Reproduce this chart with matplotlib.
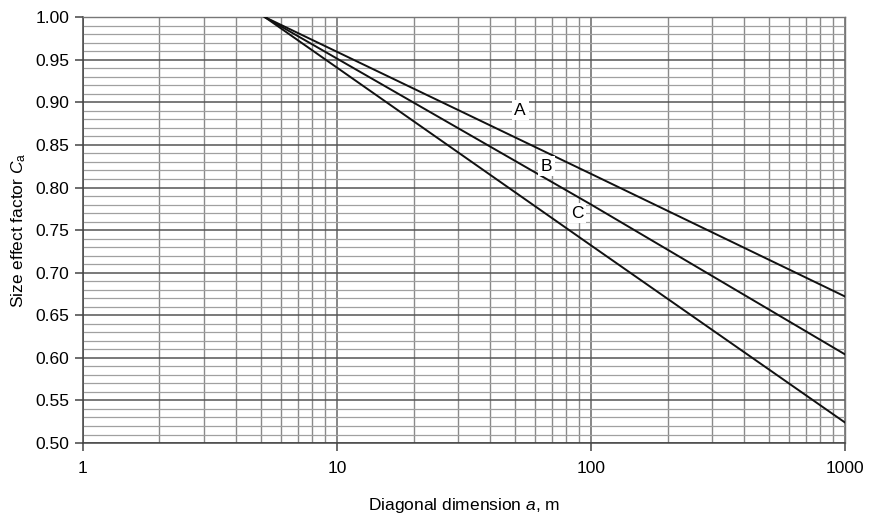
import numpy as np
import matplotlib
matplotlib.use('Agg')
import matplotlib.pyplot as plt
from matplotlib.ticker import FixedLocator, NullFormatter, MultipleLocator

plt.rcParams['font.family'] = ['Liberation Sans', 'DejaVu Sans']
plt.rcParams['mathtext.fontset'] = 'custom'
plt.rcParams['mathtext.rm'] = 'Liberation Sans'
plt.rcParams['mathtext.it'] = 'Liberation Sans:italic'

# values
a_vals = [5.2, 100, 1000]
curve_A = [1.0, 0.816, 0.672]
curve_B = [1.0, 0.780, 0.604]
curve_C = [1.0, 0.732, 0.524]

labels = ['A', 'B', 'C']
label_x = [52.6, 66.5, 88]
label_y = [0.891, 0.825, 0.770]

xticks = [1, 10, 100, 1000]
xticklabels = ['1', '10', '100', '1000']

fig = plt.figure(figsize=(8.7, 5.2), dpi=100)
ax = fig.add_axes([0.0954, 0.148, 0.876, 0.819])

for ys in (curve_A, curve_B, curve_C):
    ax.plot(a_vals, ys, color='#111111', lw=1.4, zorder=3)

for lab, lx, ly in zip(labels, label_x, label_y):
    ax.text(lx, ly, lab, fontsize=12.5, ha='center', va='center', zorder=4,
            bbox=dict(facecolor='white', edgecolor='none', pad=2))

ax.set_xscale('log')
ax.set_xlim(1, 1000)
ax.set_ylim(0.5, 1.0)

ax.xaxis.set_major_locator(FixedLocator(xticks))
ax.set_xticklabels(xticklabels)
minor_x = [m * 10 ** d for d in range(3) for m in range(2, 10)]
ax.xaxis.set_minor_locator(FixedLocator(minor_x))
ax.xaxis.set_minor_formatter(NullFormatter())

ax.yaxis.set_major_locator(MultipleLocator(0.05))
ax.yaxis.set_minor_locator(MultipleLocator(0.01))
ax.yaxis.set_major_formatter(plt.FuncFormatter(lambda v, p: f'{v:.2f}'))

ax.grid(which='major', axis='y', color='#555555', lw=1.1)
ax.grid(which='minor', axis='y', color='#a0a0a0', lw=0.9)
ax.grid(which='major', axis='x', color='#666666', lw=1.1)
ax.grid(which='minor', axis='x', color='#8a8a8a', lw=1.0)
ax.set_axisbelow(True)

ax.tick_params(which='major', direction='out', length=6, width=1.1, color='#444444',
               labelsize=12.5, pad=4)
ax.tick_params(which='minor', length=0)
ax.tick_params(axis='x', pad=7)

for side in ('left', 'bottom'):
    ax.spines[side].set_color('#444444')
    ax.spines[side].set_linewidth(1.1)
for side in ('top', 'right'):
    ax.spines[side].set_color('#777777')
    ax.spines[side].set_linewidth(1.0)

ax.set_xlabel(r'Diagonal dimension $a$, m', fontsize=12.5, labelpad=14)
ax.set_ylabel(r'Size effect factor $C_\mathrm{a}$', fontsize=12.5, labelpad=5)

fig.savefig('out.png', dpi=100)
